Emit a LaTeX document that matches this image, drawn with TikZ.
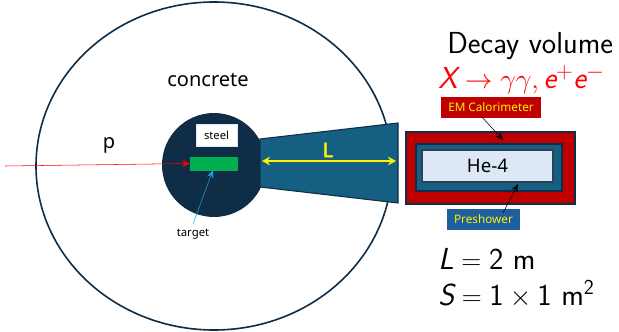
\documentclass[tikz,border=0pt]{standalone}
\usepackage{amsmath}
\usepackage{fontspec}
\setmainfont{Noto Sans}
\newfontfamily\heavyfont[FakeBold=2.5]{Noto Sans}
\usetikzlibrary{arrows.meta,calc,shapes.geometric}
\definecolor{navy}{HTML}{0F2D46}
\definecolor{tealblue}{HTML}{156082}
\definecolor{darkred}{HTML}{C00000}
\definecolor{pale}{HTML}{DCE8F6}
\definecolor{greenbar}{HTML}{00B050}
\definecolor{psblue}{HTML}{1F5F9F}
\definecolor{skyarrow}{HTML}{1AA0DC}
\tikzset{
 lab/.style={inner sep=0pt,text=black},
 tagbox/.style={inner sep=0pt,outer sep=0pt,minimum width=#1,text=yellow,font=\fontsize{8.8}{10}\selectfont},
 big/.style={inner sep=0pt,anchor=base west,font=\sffamily\fontsize{22.8}{26}\selectfont},
 thinarrow/.style={-{Stealth[length=6pt,width=5pt]},line width=0.4pt}
}
\newcommand{\rectnode}[7]{\node[draw=#6,fill=#7,line width=#5,inner sep=0pt,outer sep=0pt,minimum width=#3*0.75pt,minimum height=#4*0.75pt,anchor=north west] (#1) at #2 {};}
\newcommand{\sfit}[1]{\textsf{\itshape #1}}
\newcommand{\sfup}[1]{\textsf{#1}}
\begin{document}
\begin{tikzpicture}[x=0.75pt,y=-0.75pt]
\useasboundingbox (0,0) rectangle (619,332);
\node[draw=navy,line width=1.2pt,ellipse,minimum width=356*0.75pt,minimum height=328*0.75pt,inner sep=0pt] (concretewall) at (214,166) {};
\node[fill=navy,circle,minimum size=104*0.75pt,inner sep=0pt] (core) at (214,165) {};
\draw[fill=tealblue,draw=navy,line width=0.8pt] (260,139) coordinate (tl) -- (398,123) coordinate (tr) -- (398,203) coordinate (br) -- (260,187) coordinate (bl) -- cycle;
\rectnode{steelbox}{(196,124)}{41}{22}{0.5pt}{pale}{white}
\node[lab,font=\fontsize{8.4}{10}\selectfont] at (steelbox.center) {steel};
\rectnode{targetbar}{(190,157)}{47}{13}{0pt}{greenbar}{greenbar}
\node[lab,font=\fontsize{8.5}{10}\selectfont] (targetlab) at (193,234) {target};
\coordinate (ts) at (193,224);
\coordinate (te) at (213,170);
\draw[thinarrow,skyarrow] (ts) -- (te);
\coordinate (ps) at (5,166);
\draw[thinarrow,red] (ps) -- (targetbar.west);
\node[lab,font=\fontsize{15}{18}\selectfont] (plab) at (109,145) {p};
\node[lab,font=\fontsize{15}{18}\selectfont] (conc) at (208,80) {concrete};
\coordinate (la) at (262,161);
\coordinate (lb) at (396,161);
\draw[{Stealth[length=6pt,width=6.5pt]}-{Stealth[length=6pt,width=6.5pt]},yellow,line width=1.6pt] (la) -- (lb);
\node[lab,text=yellow,font=\heavyfont\fontsize{15}{17}\selectfont] (llab) at (328,150) {L};
\rectnode{emouter}{(406,132)}{169}{72}{1pt}{navy}{darkred}
\rectnode{psmid}{(416,144)}{146}{47}{1pt}{navy}{tealblue}
\rectnode{hebox}{(422,150)}{131}{32}{1pt}{navy!75!gray}{pale}
\node[lab,font=\fontsize{14}{16}\selectfont] at (hebox.center) {He-4};
\node[tagbox=100*0.75pt,fill=darkred,minimum height=21*0.75pt,anchor=north west] (emtag) at (441,97) {EM Calorimeter};
\node[tagbox=73*0.75pt,fill=psblue,minimum height=21*0.75pt,anchor=north west] (pstag) at (447,209) {Preshower};
\coordinate (ea) at (481,116);
\coordinate (eb) at (503,140);
\coordinate (pa) at (503,213);
\coordinate (pb) at (518,184);
\draw[thinarrow,black] (ea) -- (eb);
\draw[thinarrow,black] (pa) -- (pb);
\node[big] (decay) at (447,53) {Decay volume};
\node[big,text=red] (proc) at (438,89) {$\sfit{X}\rightarrow\gamma\gamma,\sfit{e}^{+}\sfit{e}^{-}$};
\node[big] (leq) at (438,269) {$\sfit{L}=\sfup{2}\ \sfup{m}$};
\node[big] (seq) at (438,305) {$\sfit{S}=\sfup{1}\times\sfup{1}\ \sfup{m}^{\sfup{2}}$};
\end{tikzpicture}
\end{document}
